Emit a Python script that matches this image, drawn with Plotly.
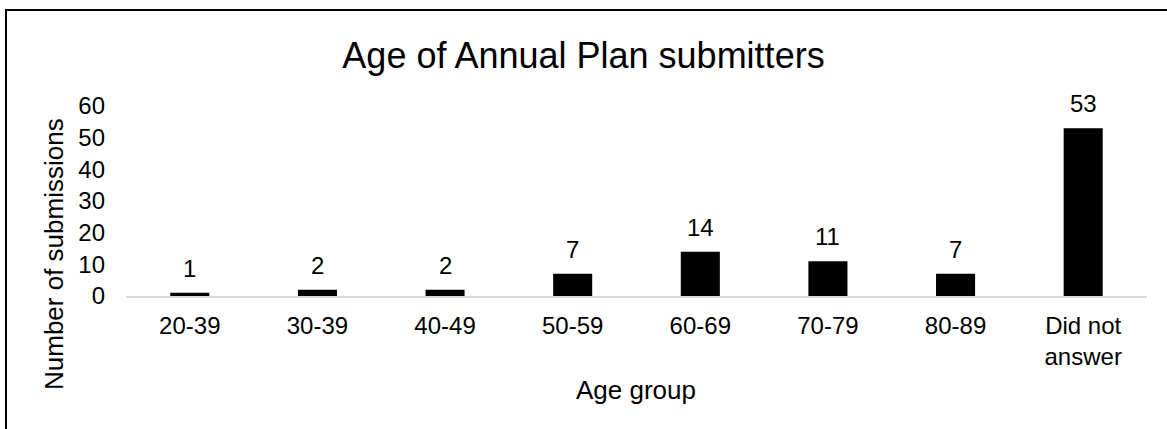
import plotly.graph_objects as go

# Survey counts by age group
age_groups = ["20-39", "30-39", "40-49", "50-59", "60-69", "70-79", "80-89", "Did not<br>answer"]
submissions = [1, 2, 2, 7, 14, 11, 7, 53]
y_ticks = [0, 10, 20, 30, 40, 50, 60]

W, H = 1167, 429
ML, MR, MT, MB = 126, 20, 106, 133
FONT = "Liberation Sans, Arial, sans-serif"

fig = go.Figure(
    go.Bar(
        x=age_groups,
        y=submissions,
        marker=dict(color="black", line=dict(width=0)),
        cliponaxis=False,
    )
)

# value labels above each bar
for cat, val in zip(age_groups, submissions):
    fig.add_annotation(
        x=cat,
        y=val,
        text=str(val),
        xref="x",
        yref="y",
        yanchor="bottom",
        yshift=9,
        showarrow=False,
        font=dict(size=24, color="black"),
    )

pw = W - ML - MR
ph = H - MT - MB

fig.update_layout(
    width=W,
    height=H,
    margin=dict(l=ML, r=MR, t=MT, b=MB, pad=0),
    paper_bgcolor="white",
    plot_bgcolor="white",
    font=dict(family=FONT, color="black", size=24),
    bargap=0.694,
    showlegend=False,
    title=dict(
        text="Age of Annual Plan submitters",
        font=dict(size=36, color="black", family=FONT),
        x=0.5,
        xref="container",
        xanchor="center",
        y=1 - 55 / H,
        yref="container",
        yanchor="middle",
    ),
    xaxis=dict(
        showline=True,
        linecolor="#d9d9d9",
        linewidth=2,
        ticks="",
        showgrid=False,
        tickfont=dict(size=24, color="black"),
        ticklabelstandoff=7,
    ),
    yaxis=dict(
        range=[0, 60],
        tickvals=y_ticks,
        showline=False,
        showgrid=False,
        zeroline=False,
        ticks="",
        tickfont=dict(size=24, color="black"),
        ticklabelstandoff=20,
    ),
    shapes=[
        dict(
            type="rect",
            xref="paper",
            yref="paper",
            x0=(6 - ML) / pw,
            x1=(W + 10 - ML) / pw,
            y0=-(H + 10 - MT - ph) / ph,
            y1=1 + (MT - 10) / ph,
            line=dict(color="black", width=2),
            fillcolor="rgba(0,0,0,0)",
            layer="below",
        )
    ],
)

fig.add_annotation(
    text="Age group",
    xref="paper",
    yref="paper",
    x=(636 - ML) / pw,
    y=-(390 - MT - ph) / ph,
    xanchor="center",
    yanchor="middle",
    showarrow=False,
    font=dict(size=26, color="black"),
)
fig.add_annotation(
    text="Number of submissions",
    xref="paper",
    yref="paper",
    x=(54 - ML) / pw,
    y=1 - (254 - MT) / ph,
    xanchor="center",
    yanchor="middle",
    textangle=-90,
    showarrow=False,
    font=dict(size=26, color="black"),
)

fig.write_html("out.html")
